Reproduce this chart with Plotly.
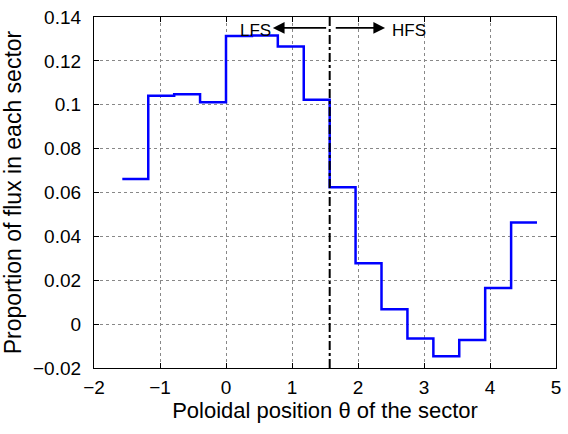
import plotly.graph_objects as go

# Sector boundaries (theta, rad) and flux proportion in each sector
sector_edges = [-1.571, -1.178, -0.785, -0.393, 0.0, 0.393, 0.785, 1.178, 1.571,
                1.963, 2.356, 2.749, 3.142, 3.534, 3.927, 4.320, 4.712]
flux_prop = [0.0662, 0.1041, 0.1048, 0.1011, 0.1313, 0.1316, 0.1265, 0.1023,
             0.0624, 0.0278, 0.0068, -0.0066, -0.0146, -0.0072, 0.0165, 0.0463]
divider_theta = 1.571
x_ticks = [-2, -1, 0, 1, 2, 3, 4, 5]
y_ticks = [-0.02, 0, 0.02, 0.04, 0.06, 0.08, 0.1, 0.12, 0.14]
y_ticktext = ["−0.02", "0", "0.02", "0.04", "0.06", "0.08", "0.1", "0.12", "0.14"]

font = "Liberation Sans, Arial, Helvetica, sans-serif"

fig = go.Figure()
fig.add_trace(go.Scatter(
    x=sector_edges, y=flux_prop + [flux_prop[-1]],
    mode="lines", line=dict(color="#0000ff", width=2.5, shape="hv"),
    showlegend=False, hoverinfo="skip"))
fig.add_trace(go.Scatter(
    x=[divider_theta, divider_theta], y=[y_ticks[0], y_ticks[-1]],
    mode="lines", line=dict(color="black", width=2, dash="dashdot"),
    showlegend=False, hoverinfo="skip"))

arrow_y = 0.135
fig.add_annotation(x=0.71, y=arrow_y, ax=1.54, ay=arrow_y, xref="x", yref="y",
                   axref="x", ayref="y", text="", showarrow=True,
                   arrowhead=2, arrowsize=1.3, arrowwidth=1.8, arrowcolor="black")
fig.add_annotation(x=2.41, y=arrow_y, ax=1.64, ay=arrow_y, xref="x", yref="y",
                   axref="x", ayref="y", text="", showarrow=True,
                   arrowhead=2, arrowsize=1.3, arrowwidth=1.8, arrowcolor="black")
fig.add_annotation(x=0.44, y=0.1338, text="LFS", showarrow=False,
                   font=dict(family=font, size=17, color="black"))
fig.add_annotation(x=2.78, y=0.1338, text="HFS", showarrow=False,
                   font=dict(family=font, size=17, color="black"))

axis_common = dict(showline=True, linecolor="black", linewidth=1.2, mirror="ticks",
                   ticks="inside", ticklen=5, tickcolor="black",
                   showgrid=True, gridcolor="#888888", griddash="dot", gridwidth=1,
                   zeroline=False, tickfont=dict(family=font, size=19, color="black"))

fig.update_xaxes(range=[-2, 5], tickvals=x_ticks,
                 ticktext=[("−" + str(-v)) if v < 0 else str(v) for v in x_ticks],
                 ticklabelstandoff=2,
                 title=dict(text="Poloidal position θ of the sector",
                            font=dict(family=font, size=22, color="black"), standoff=5),
                 **axis_common)
fig.update_yaxes(range=[-0.02, 0.14], tickvals=y_ticks, ticktext=y_ticktext,
                 ticklabelstandoff=8,
                 title=dict(text="Proportion of flux in each sector",
                            font=dict(family=font, size=23, color="black"), standoff=8),
                 **axis_common)

fig.update_layout(width=568, height=434, margin=dict(l=94, r=7, t=14, b=66),
                  plot_bgcolor="white", paper_bgcolor="white")
fig.write_html("out.html")
